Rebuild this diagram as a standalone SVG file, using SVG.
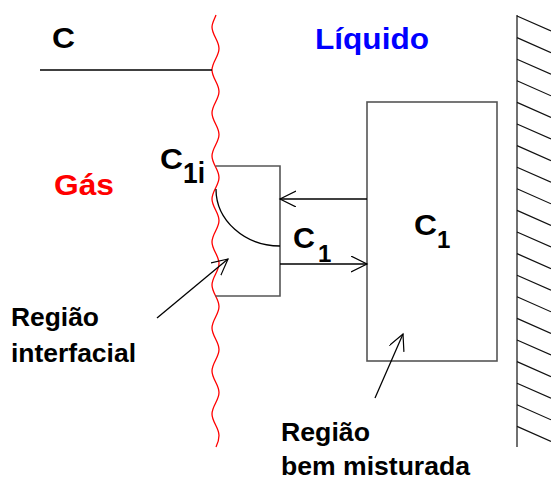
<svg xmlns="http://www.w3.org/2000/svg" width="551" height="479" viewBox="0 0 551 479">
<style>
text{font-family:"Liberation Sans",Arial,sans-serif;font-weight:bold;fill:#000}
.big{font-size:29px}
.lbl{font-size:25px}
.ln{stroke:#000;stroke-width:1.3;fill:none}
.box{stroke:#555;stroke-width:1.6;fill:none}
.hat{stroke:#111;stroke-width:1.2;fill:none}
</style>
<defs>
<marker id="ah" markerUnits="userSpaceOnUse" markerWidth="20" markerHeight="20" refX="16" refY="8" orient="auto">
<path d="M0,0 L16,8 L0,16" fill="none" stroke="#000" stroke-width="1.2"/>
</marker>
</defs>
<rect width="551" height="479" fill="#fff"/>
<g id="interface">
<path d="M216,15 C214.5,19 212,23 212,27 C212,34.8 219,40.7 219,48.5 S212,62.2 212,70 S219,83.7 219,91.5 S212,105.2 212,113 S219,126.7 219,134.5 S212,148.2 212,156 S219,169.7 219,177.5 S212,191.2 212,199 S219,212.7 219,220.5 S212,234.2 212,242 S219,255.7 219,263.5 S212,277.2 212,285 S219,298.7 219,306.5 S212,320.2 212,328 S219,341.7 219,349.5 S212,363.2 212,371 S219,384.7 219,392.5 S212,406.2 212,414 S219,427.7 219,435.5 C219,440 217.5,444 216,447" fill="none" stroke="#ff0000" stroke-width="1.3"/>
</g>
<g id="wall">
<line x1="517" y1="15" x2="517" y2="447" class="hat"/>
<path class="hat" d="M517,16 l34,15 M517,37.6 l34,15 M517,59.2 l34,15 M517,80.8 l34,15 M517,102.4 l34,15 M517,124 l34,15 M517,145.6 l34,15 M517,167.2 l34,15 M517,188.8 l34,15 M517,210.4 l34,15 M517,232 l34,15 M517,253.6 l34,15 M517,275.2 l34,15 M517,296.8 l34,15 M517,318.4 l34,15 M517,340 l34,15 M517,361.6 l34,15 M517,383.2 l34,15 M517,404.8 l34,15 M517,426.4 l34,15"/>
</g>
<g id="gas-bulk">
<line x1="40" y1="70" x2="212" y2="70" class="ln"/>
<text x="52" y="48" class="big" textLength="23" lengthAdjust="spacingAndGlyphs">C</text>
</g>
<g id="interfacial-region">
<path class="box" d="M215.5,166 H280 V296 H215.5"/>
<path class="ln" d="M216,189 A64,57 0 0 0 280,246"/>
<text x="160" y="169" class="big" textLength="23" lengthAdjust="spacingAndGlyphs">C</text>
<text x="183" y="183" class="big" textLength="22" lengthAdjust="spacingAndGlyphs">1i</text>
<text x="293" y="248" class="big" textLength="22" lengthAdjust="spacingAndGlyphs">C</text>
<text x="318" y="262" style="font-size:24px">1</text>
</g>
<g id="well-mixed-region">
<rect x="367" y="102" width="130" height="259" class="box"/>
<text x="414" y="235" class="big" textLength="23" lengthAdjust="spacingAndGlyphs">C</text>
<text x="437" y="248" style="font-size:24px">1</text>
</g>
<g id="labels">
<text x="315" y="49" class="big" style="fill:#0000ff" textLength="114" lengthAdjust="spacingAndGlyphs">Líquido</text>
<text x="54" y="195" class="big" style="fill:#ff0000" textLength="60" lengthAdjust="spacingAndGlyphs">Gás</text>
<text x="11" y="326" class="lbl" textLength="88" lengthAdjust="spacingAndGlyphs">Região</text>
<text x="11" y="362" class="lbl" textLength="125" lengthAdjust="spacingAndGlyphs">interfacial</text>
<text x="281" y="441" class="lbl" textLength="89" lengthAdjust="spacingAndGlyphs">Região</text>
<text x="281" y="475" class="lbl" textLength="189" lengthAdjust="spacingAndGlyphs">bem misturada</text>
</g>
<g id="connectors">
<line x1="367" y1="199" x2="280" y2="199" class="ln" marker-end="url(#ah)"/>
<line x1="280" y1="264" x2="367" y2="264" class="ln" marker-end="url(#ah)"/>
<line x1="157" y1="318" x2="228" y2="259" class="ln" marker-end="url(#ah)"/>
<line x1="375" y1="398" x2="403" y2="334" class="ln" marker-end="url(#ah)"/>
</g>
</svg>
